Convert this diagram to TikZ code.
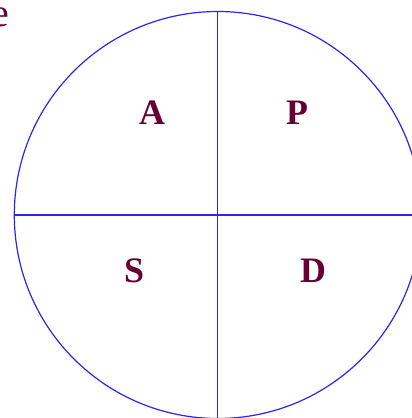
\documentclass[tikz,border=0pt]{standalone}
\usepackage{fontspec}
\setmainfont{Liberation Serif}
\usepackage{tikz}
\usetikzlibrary{positioning}
\definecolor{ring}{RGB}{40,40,235}
\definecolor{wine}{RGB}{102,0,51}

\begin{document}
\begin{tikzpicture}[x=1bp, y=1bp,
  phase/.style={text=wine, font=\fontsize{36}{40}\selectfont\bfseries, inner sep=0pt},
  axis/.style={draw=ring, line width=1.2bp}]

\useasboundingbox (0,0) rectangle (412,418);
\clip (0,0) rectangle (412,418);

% the cycle
\node[circle, axis, minimum size=407bp, inner sep=0pt, outer sep=0pt] (wheel) at (217.8,203) {};
\draw[axis] (wheel.north) -- (wheel.south);
\draw[axis] (wheel.west) -- (wheel.east);

% quadrant letters
\node[phase] (act) at (152,305) {A};
\node[phase] (plan) at (297,305) {P};
\node[phase] (study) at (134,147) {S};
\node[phase] (do) at (313,147) {D};

% cut-off title letter
\node[text=wine, font=\fontsize{40}{44}\selectfont, anchor=base east, inner sep=0pt] (tail) at (9.5,391) {e};
\end{tikzpicture}
\end{document}
